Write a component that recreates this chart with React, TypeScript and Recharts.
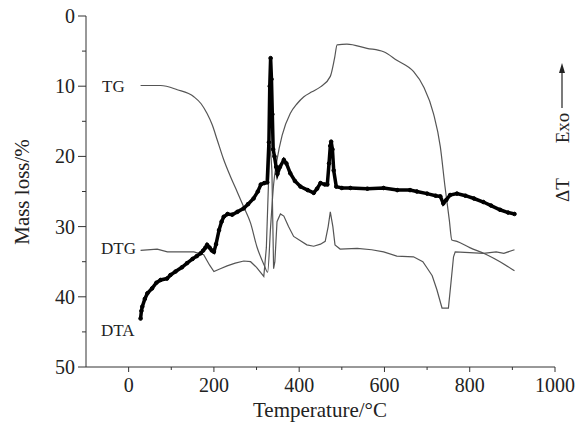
import React from "react";
import { LineChart, Line, XAxis, YAxis } from "recharts";

// Temperature (°C) and mass-loss (%) readings for each curve
const tgTemp = [28, 75, 114, 153, 170, 184, 196, 208, 222, 239, 255, 270, 286, 301, 318, 326, 333, 340, 348, 360, 379, 395, 411, 430, 450, 473, 483, 489, 512, 559, 598, 629, 668, 692, 715, 731, 742, 746, 752, 758, 770, 800, 840, 871, 905];
const tgVal = [9.9, 9.9, 10.5, 11.5, 12.5, 13.9, 15.5, 17.7, 20.3, 22.9, 25.1, 27.2, 29.5, 32.9, 35.5, 36.5, 30, 24, 20.5, 17, 13.9, 12.5, 11.5, 10.8, 10.1, 8.6, 6, 4.1, 4.0, 4.6, 5.1, 6.3, 7.9, 10.1, 13.9, 18.6, 24.3, 26.2, 29, 31.9, 32.1, 33, 34, 35, 36.3];

const dtgTemp = [28, 67, 91, 153, 176, 190, 200, 215, 231, 250, 270, 286, 300, 317, 323, 329, 332, 336, 340, 343, 348, 356, 364, 375, 387, 418, 434, 450, 461, 468, 473, 479, 484, 496, 536, 570, 598, 629, 668, 690, 700, 712, 723, 735, 750, 756, 762, 766, 800, 832, 862, 880, 905];
const dtgVal = [33.4, 33.2, 33.6, 33.6, 34, 35.5, 36.4, 36, 35.6, 35.2, 34.9, 35, 35.8, 37.1, 33, 22, 18.3, 22, 36, 35, 29.3, 28.2, 28.5, 30, 31.4, 32.6, 32.8, 32.5, 32.1, 30, 27.9, 30, 32.6, 33.2, 33.1, 33.3, 33.6, 34.2, 34.3, 35, 35.9, 37, 39, 41.6, 41.6, 38, 34.3, 33.6, 33.7, 33.8, 33.6, 33.8, 33.3];

const dtaTemp = [28, 30, 32, 38, 44, 55, 65, 75, 90, 98, 110, 125, 137, 150, 160, 169, 175, 180, 184, 190, 195, 200, 205, 212, 218, 223, 232, 243, 255, 270, 280, 293, 303, 310, 318, 325, 329, 331, 333, 335, 337, 339, 342, 346, 349, 355, 364, 370, 379, 390, 403, 420, 434, 442, 450, 460, 466, 470, 473, 475, 478, 481, 487, 500, 520, 560, 598, 630, 660, 676, 700, 720, 731, 738, 745, 754, 770, 790, 810, 832, 850, 871, 890, 905];
const dtaVal = [43.1, 42, 41.4, 40.3, 39.5, 38.8, 38, 37.6, 37.4, 36.9, 36.4, 35.8, 35.2, 34.6, 34.2, 33.8, 33.4, 33, 32.6, 33, 33.4, 33.6, 32.5, 30.5, 29.3, 28.6, 28.2, 28.3, 27.9, 27.4, 26.8, 26, 25, 24, 23.8, 23.7, 18, 10, 6, 9, 14, 19, 20, 21.5, 22.5, 21.5, 20.5, 21, 22.4, 23.5, 24.3, 24.8, 25.2, 24.6, 23.8, 24, 24, 21, 18.5, 17.9, 19, 22, 24.3, 24.5, 24.5, 24.6, 24.5, 24.8, 24.8, 25, 25.3, 25.6, 25.7, 26.7, 26.2, 25.5, 25.3, 25.6, 26, 26.5, 27, 27.6, 28, 28.2];

const xTicks = [0, 100, 200, 300, 400, 500, 600, 700, 800, 900, 1000];
const yTicks = [0, 5, 10, 15, 20, 25, 30, 35, 40, 45, 50];

const toPoints = (xs: number[], ys: number[]) => xs.map((x, i) => ({ x, y: ys[i] }));
const tgData = toPoints(tgTemp, tgVal);
const dtgData = toPoints(dtgTemp, dtgVal);
const dtaData = toPoints(dtaTemp, dtaVal);

const FONT = "'Liberation Serif', 'Times New Roman', serif";
const AXIS = "#333";
const W = 575;
const H = 423;

const XTick = (props: any) => {
  const { x, y, payload } = props;
  const major = payload.value % 200 === 0;
  return (
    <g>
      <line x1={x} y1={y} x2={x} y2={y + (major ? 5 : 3)} stroke={AXIS} strokeWidth={1} />
      {major && (
        <text x={x} y={y + 25} textAnchor="middle" fontFamily={FONT} fontSize={20} fill="#222">
          {payload.value}
        </text>
      )}
    </g>
  );
};

const YTick = (props: any) => {
  const { x, y, payload } = props;
  const major = payload.value % 10 === 0;
  return (
    <g>
      <line x1={x} y1={y} x2={x - (major ? 8 : 4)} y2={y} stroke={AXIS} strokeWidth={1} />
      {major && (
        <text x={x - 11} y={y} dy="0.35em" textAnchor="end" fontFamily={FONT} fontSize={20} fill="#222">
          {payload.value}
        </text>
      )}
    </g>
  );
};

export default function App() {
  return (
    <div style={{ position: "fixed", left: 0, top: 0, width: W, height: H, overflow: "hidden", background: "#fff" }}>
      <LineChart width={W} height={H} margin={{ top: 16, right: 20, left: 46, bottom: 0 }}>
        <XAxis
          type="number"
          dataKey="x"
          domain={[-100, 1000]}
          ticks={xTicks}
          interval={0}
          tickSize={0}
          tickMargin={0}
          tickLine={false}
          tick={<XTick />}
          height={56}
          axisLine={{ stroke: AXIS, strokeWidth: 1 }}
          allowDataOverflow
        />
        <YAxis
          type="number"
          dataKey="y"
          domain={[0, 50]}
          reversed
          ticks={yTicks}
          interval={0}
          tickSize={0}
          tickMargin={0}
          tickLine={false}
          tick={<YTick />}
          width={40}
          axisLine={{ stroke: AXIS, strokeWidth: 1 }}
          allowDataOverflow
        />
        <Line data={tgData} dataKey="y" type="monotone" stroke="#555" strokeWidth={1.2} dot={false} isAnimationActive={false} />
        <Line data={dtgData} dataKey="y" type="linear" stroke="#555" strokeWidth={1.2} dot={false} isAnimationActive={false} />
        <Line
          data={dtaData}
          dataKey="y"
          type="linear"
          stroke="#000"
          strokeWidth={3.5}
          dot={{ r: 1.8, fill: "#000", stroke: "#000", strokeWidth: 1 }}
          isAnimationActive={false}
        />
      </LineChart>
      <svg width={W} height={H} style={{ position: "absolute", left: 0, top: 0, pointerEvents: "none" }}>
        <text x={22} y={192} transform="rotate(-90 22 192)" textAnchor="middle" dominantBaseline="central" fontFamily={FONT} fontSize={21} fill="#222">
          Mass loss/%
        </text>
        <text x={320} y={417} textAnchor="middle" fontFamily={FONT} fontSize={21} fill="#222">
          Temperature/°C
        </text>
        <text x={102} y={86} dy="0.35em" fontFamily={FONT} fontSize={17} fill="#222">TG</text>
        <text x={101} y={248} dy="0.35em" fontFamily={FONT} fontSize={17} fill="#222">DTG</text>
        <text x={101} y={330} dy="0.35em" fontFamily={FONT} fontSize={17} fill="#222">DTA</text>
        <text x={562} y={128} transform="rotate(-90 562 128)" textAnchor="middle" dominantBaseline="central" fontFamily={FONT} fontSize={19} fill="#222">
          Exo
        </text>
        <line x1={562} y1={108} x2={562} y2={72} stroke="#222" strokeWidth={1.2} />
        <polygon points="562,63 559,73 565,73" fill="#222" />
        <text x={562} y={190} transform="rotate(-90 562 190)" textAnchor="middle" dominantBaseline="central" fontFamily={FONT} fontSize={19} fill="#222">
          ΔT
        </text>
      </svg>
    </div>
  );
}
